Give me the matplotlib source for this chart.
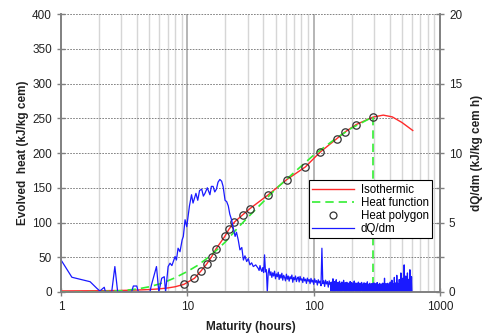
import numpy as np
import matplotlib
matplotlib.use("Agg")
import matplotlib.pyplot as plt
from matplotlib.ticker import FixedLocator, NullFormatter, NullLocator
from matplotlib.lines import Line2D

plt.rcParams['font.family'] = ['Liberation Sans', 'DejaVu Sans']

# --- Isothermic evolved heat (kJ/kg cem) vs maturity (h)
iso_m = [1, 2, 3, 4, 5, 6, 7, 8, 9.4, 11.4, 12.8, 14.2, 15.6, 16.8, 19.8, 21.4,
         23.6, 27.4, 31.3, 43.8, 61.2, 86, 112, 152, 178, 217, 294, 356, 420, 500, 609]
iso_q = [1.5, 1.8, 2.2, 2.8, 3.5, 4.5, 5.8, 7.5, 11, 19.8, 30, 40, 51, 61.6, 80, 90.5,
         100.6, 111, 120, 140, 161.7, 180, 201, 220.5, 230.6, 241, 251.7, 254.6, 252, 244, 232.5]

# --- Heat function (fitted), ends at the last polygon point
hf_m = [1, 2, 3, 4, 5, 6, 7, 8, 10, 12, 14, 17, 20, 25, 30, 40, 50, 70, 100, 150, 200, 294]
hf_q = [0, 0.4, 1.8, 4.2, 7.5, 11.5, 16, 20.5, 29.5, 38, 47, 60, 72, 92, 107, 130, 148,
        172, 197, 221, 236, 252]
hf_end_m = 294
hf_end_q = 252

# --- Heat polygon points
poly_m = [9.4, 11.4, 12.8, 14.2, 15.6, 16.8, 19.8, 21.4, 23.6, 27.4, 31.3, 43.8, 61.2,
          86, 112, 152, 178, 217, 294]
poly_q = [11, 19.8, 30, 40, 51, 61.6, 80, 90.5, 100.6, 111, 120, 140, 161.7, 180, 201,
          220.5, 230.6, 241, 251.7]

# --- dQ/dm rate (kJ/kg cem h): early part and main peak
rate_m = [1.0, 1.22, 1.7, 1.92, 2.03, 2.2, 2.25, 2.52, 2.67, 2.81, 3.62, 3.74, 3.98, 4.1,
          5.06, 5.2, 5.7, 5.95, 6.27, 6.57, 6.73, 7.05, 7.3, 7.55, 7.75, 8.0, 8.2, 8.45,
          8.75, 9.1, 9.3, 9.6, 9.9,
          10.4, 10.8, 11.1, 11.7, 12.1, 12.5, 13.0, 13.4, 13.8, 14.4, 15.1, 15.5, 16.0,
          16.5, 17.0, 17.5, 18.1, 18.7, 19.2, 19.9, 20.5, 21.1, 21.7, 22.4, 23.1, 23.9,
          24.5, 25.3, 26.1, 27.0, 27.8, 28.6, 29.5, 30.4, 31.3, 32.3, 33.3, 34.8]
rate_v = [2.31, 1.06, 0.74, 0.27, 0.07, 0.34, 0.0, 0.0, 1.83, 0.0, 0.0, 0.43, 0.43, 0.0,
          0.0, 0.5, 1.83, 0.0, 0.99, 1.1, 0.0, 1.83, 2.07, 1.9, 2.19, 2.55, 2.3, 3.15,
          2.9, 3.75, 4.0, 5.2, 4.7,
          6.2, 7.0, 6.4, 7.1, 6.6, 7.3, 7.4, 6.9, 7.1, 7.5, 7.0, 7.6, 7.6,
          7.2, 7.4, 7.9, 8.1, 7.97, 7.6, 6.6, 6.5, 6.2, 5.6, 5.2, 4.6, 4.0,
          4.3, 3.75, 3.03, 3.2, 2.3, 2.6, 2.19, 2.4, 1.95, 2.1, 1.83, 1.95]

# tail sampled evenly in log-maturity, 36.4 h .. 135 h
tail1_range = (36.4, 135.0)
tail1_v = [1.70, 1.55, 1.90, 1.62, 1.48, 1.75, 1.40, 2.67, 1.45, 1.60, 0.00, 1.35, 1.70,
           1.20, 1.45, 1.05, 1.38, 1.15, 1.50, 0.95, 1.30, 1.10, 1.42, 0.90, 1.25, 1.00,
           1.35, 0.85, 1.20, 1.05, 0.80, 1.28, 0.92, 1.15, 0.78, 1.10, 0.95, 1.22, 0.70,
           1.05, 0.88, 1.15, 0.75, 0.98, 1.08, 0.72, 1.12, 0.85, 0.95, 0.68, 1.05, 0.80,
           0.92, 0.62, 1.00, 0.78, 0.90, 0.60, 0.98, 0.72, 0.85, 0.55, 0.95, 0.70, 0.82,
           0.50, 0.88, 0.65, 0.78, 0.45, 3.15, 0.60, 0.80, 0.40, 0.85, 0.58, 0.75, 0.35,
           0.80, 0.55]

# tail sampled evenly in log-maturity, 136 h .. 600 h
tail2_range = (136.0, 600.0)
tail2_v = [0.62, 0.05, 0.71, 0.12, 0.58, 0.02, 0.95, 0.08, 0.66, 0.00, 0.74, 0.10, 0.55,
           0.04, 0.88, 0.15, 0.60, 0.03, 0.69, 0.07, 0.52, 0.00, 0.77, 0.11, 0.63, 0.05,
           0.57, 0.01, 0.72, 0.09, 0.49, 0.06, 0.84, 0.13, 0.61, 0.02, 0.67, 0.08, 0.54,
           0.00, 0.70, 0.12, 0.58, 0.04, 0.63, 0.07, 0.51, 0.01, 0.75, 0.10,
           0.56, 0.03, 0.68, 0.09, 0.53, 0.00, 0.62, 0.06, 0.79, 0.11, 0.50, 0.02, 0.65,
           0.08, 0.57, 0.04, 0.60, 0.00, 0.71, 0.10, 0.48, 0.05, 0.64, 0.01, 0.55, 0.07,
           0.69, 0.12, 0.52, 0.03, 0.59, 0.00, 0.66, 0.08, 0.47, 0.04, 0.62, 0.09, 0.54,
           0.02, 0.73, 0.06, 0.50, 0.00, 0.58, 0.11, 0.63, 0.03, 0.49, 0.07,
           0.57, 0.01, 0.61, 0.08, 0.46, 0.04, 0.66, 0.10, 0.53, 0.00, 0.59, 0.06, 0.51,
           0.02, 0.68, 0.09, 0.48, 0.03, 0.56, 0.07, 0.62, 0.00, 0.45, 0.05, 0.58, 0.11,
           0.52, 0.01, 0.64, 0.08, 0.47, 0.04, 0.99, 0.06, 0.55, 0.00, 0.60, 0.09, 0.50,
           0.02, 0.63, 0.07, 0.46, 0.03, 0.57, 0.10, 0.72, 0.01, 0.53, 0.05,
           0.85, 0.04, 0.61, 0.08, 0.55, 0.00, 1.05, 0.06, 0.58, 0.02, 0.66, 0.09, 1.20,
           0.03, 0.62, 0.07, 0.52, 0.00, 0.90, 0.05, 0.70, 0.10, 1.37, 0.01, 0.60, 0.04,
           0.99, 0.08, 0.57, 0.02, 1.95, 0.06, 0.64, 0.00, 1.15, 0.09, 0.68, 0.03, 1.37,
           0.05, 0.75, 0.01, 0.92, 0.07, 1.60, 0.02, 0.80, 0.04, 1.10, 0.00]

left_ticks = [0, 50, 100, 150, 200, 250, 300, 350, 400]
right_ticks = [0, 5, 10, 15, 20]
x_ticks = [1, 10, 100, 1000]
x_labels = ["1", "10", "100", "1000"]

# ----------------------------------------------------------------------------
fig = plt.figure(figsize=(4.84, 3.36), dpi=100)
ax = fig.add_axes([0.126, 0.131, 0.783, 0.827])
ax.set_xscale('log')
ax.set_xlim(1, 1000)
ax.set_ylim(0, 400)

spine_c = '#808080'
txt_c = '#222222'

# grid: light vertical lines per sub-decade, darker at decades, dashed horizontals
minor_x = [k * 10 ** d for d in range(0, 3) for k in range(2, 10)]
for xv in minor_x:
    ax.axvline(xv, color='#d6d6d6', lw=1.0, zorder=0)
for xv in x_ticks[1:-1]:
    ax.axvline(xv, color='#b0b0b0', lw=1.3, zorder=0)
for yv in left_ticks[1:]:
    ax.axhline(yv, color='#707070', lw=0.6, ls=(0, (2, 1.5)), zorder=0)

ax.plot(iso_m, iso_q, color='#ff2a2a', lw=1.0, zorder=3)
ax.plot(hf_m, hf_q, color='#33ee33', lw=1.2, ls=(0, (5, 3)), zorder=3)
ax.plot([hf_end_m, hf_end_m], [hf_end_q, 0], color='#33ee33', lw=1.2,
        ls=(0, (5, 3)), zorder=3)
ax.plot(poly_m, poly_q, ls='none', marker='o', ms=5.3, mfc='none', mec='#333333',
        mew=0.9, zorder=4)

ax.set_xticks(x_ticks)
ax.set_xticklabels(x_labels)
ax.xaxis.set_minor_locator(NullLocator())
ax.xaxis.set_minor_formatter(NullFormatter())
ax.set_yticks(left_ticks)

for s in ['left', 'bottom', 'right']:
    ax.spines[s].set_color(spine_c)
    ax.spines[s].set_linewidth(1.2)
ax.spines['top'].set_visible(False)
ax.tick_params(axis='both', direction='inout', length=6, width=1.0, colors=spine_c,
               labelcolor=txt_c, labelsize=8.5)

ax.set_xlabel('Maturity (hours)', fontsize=8.5, fontweight='bold', color=txt_c,
              labelpad=6)
ax.set_ylabel('Evolved  heat (kJ/kg cem)', fontsize=8.5, fontweight='bold',
              color=txt_c, labelpad=2)

# right axis: rate of heat evolution
ax2 = ax.twinx()
ax2.set_ylim(0, 20)
t1_m = np.geomspace(tail1_range[0], tail1_range[1], len(tail1_v))
t2_m = np.geomspace(tail2_range[0], tail2_range[1], len(tail2_v))
all_m = np.concatenate([rate_m, t1_m, t2_m])
all_v = np.concatenate([rate_v, tail1_v, tail2_v])
ax2.plot(all_m, all_v, color='#1a1aff', lw=0.9, zorder=2)
ax2.set_yticks(right_ticks)
ax2.yaxis.set_minor_locator(FixedLocator([2.5, 7.5, 12.5, 17.5]))
ax2.tick_params(axis='y', which='both', direction='inout', length=6, width=1.0,
                colors=spine_c, labelcolor=txt_c, labelsize=8.5)
for s in ['left', 'bottom', 'right']:
    ax2.spines[s].set_color(spine_c)
    ax2.spines[s].set_linewidth(1.2)
ax2.spines['top'].set_visible(False)
ax2.set_ylabel('dQ/dm (kJ/kg cem h)', fontsize=8.5, fontweight='bold', color=txt_c,
               labelpad=6)

handles = [
    Line2D([], [], color='#ff2a2a', lw=1.0),
    Line2D([], [], color='#33ee33', lw=1.2, ls=(0, (5, 3))),
    Line2D([], [], ls='none', marker='o', ms=5, mfc='none', mec='#333333', mew=0.9),
    Line2D([], [], color='#1a1aff', lw=0.9),
]
labels = ['Isothermic', 'Heat function', 'Heat polygon', 'dQ/dm']
leg = ax2.legend(handles, labels, loc='lower right', bbox_to_anchor=(0.979, 0.194),
                 borderaxespad=0, fontsize=8.3, frameon=True, fancybox=False,
                 edgecolor='black', framealpha=1, handlelength=3.6, handletextpad=0.6,
                 labelspacing=0.08, borderpad=0.3)
leg.get_frame().set_linewidth(0.8)

fig.savefig('out.png', dpi=100)
